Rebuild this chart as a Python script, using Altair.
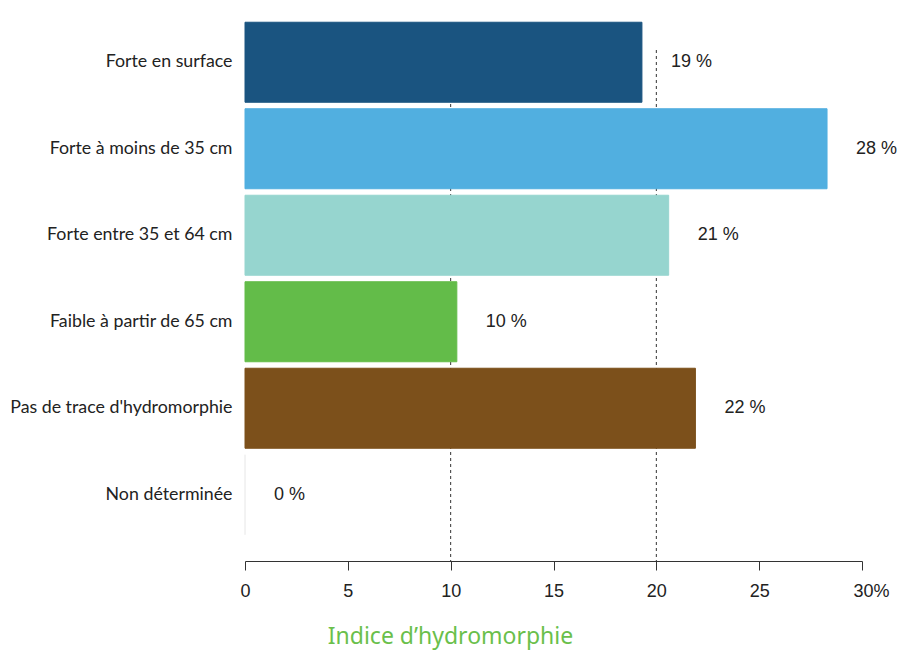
import altair as alt
import pandas as pd

# Hydromorphy classes and their share (%)
categories = [
    "Forte en surface",
    "Forte à moins de 35 cm",
    "Forte entre 35 et 64 cm",
    "Faible à partir de 65 cm",
    "Pas de trace d'hydromorphie",
    "Non déterminée",
]
values = [19.3, 28.3, 20.6, 10.3, 21.9, 0.0]
bar_colors = ["#1a5480", "#51afe0", "#96d5cf", "#63bc49", "#7c501b", "#eeeeee"]
x_ticks = [0, 5, 10, 15, 20, 25, 30]
ref_lines = [10, 20]

df = pd.DataFrame({"classe": categories, "part": values})
df["etiquette"] = [f"{round(v)} %" for v in values]
refs = pd.DataFrame({"x": ref_lines})

x_scale = alt.Scale(domain=[0, 30], nice=False, zero=True)
color_scale = alt.Scale(domain=categories, range=bar_colors)
y_enc = alt.Y(
    "classe:N",
    sort=categories,
    scale=alt.Scale(paddingInner=0.075, paddingOuter=0.0375),
    axis=alt.Axis(
        title=None,
        domain=False,
        ticks=False,
        labelFont="Lato",
        labelFontSize=17.8,
        labelColor="#222222",
        labelPadding=13,
        labelLimit=400,
    ),
)

rules = (
    alt.Chart(refs)
    .mark_rule(color="#333333", strokeDash=[3, 3], strokeWidth=1)
    .encode(
        x=alt.X("x:Q", scale=x_scale),
        y=alt.value(31),
        y2=alt.value(543),
    )
)

bars = (
    alt.Chart(df)
    .mark_bar(strokeWidth=1)
    .encode(
        x=alt.X(
            "part:Q",
            scale=x_scale,
            axis=alt.Axis(
                values=x_ticks,
                grid=False,
                offset=23,
                domainColor="#333333",
                tickColor="#333333",
                tickSize=9,
                labelFlush=False,
                labelFont="Liberation Sans",
                labelFontSize=18,
                labelColor="#222222",
                labelPadding=12,
                labelOffset={"expr": "datum.value == 30 ? 9 : 0"},
                labelExpr="datum.value == 30 ? '30%' : datum.label",
                title="Indice d’hydromorphie",
                titleFont="Noto Sans",
                titleFontSize=23,
                titleFontWeight="normal",
                titleColor="#6abf4b",
                titleAnchor="start",
                titleAlign="center",
                titleX=205,
                titleY=75,
                titleBaseline="middle",
            ),
        ),
        y=y_enc,
        color=alt.Color("classe:N", scale=color_scale, legend=None),
        stroke=alt.Stroke("classe:N", scale=color_scale, legend=None),
    )
)

labels = (
    alt.Chart(df)
    .mark_text(
        align="left",
        baseline="middle",
        dx=29,
        font="Liberation Sans",
        fontSize=18,
        color="#222222",
    )
    .encode(
        x=alt.X("part:Q", scale=x_scale),
        y=alt.Y("classe:N", sort=categories),
        text="etiquette:N",
    )
)

chart = (
    alt.layer(rules, bars, labels)
    .properties(
        width=617,
        height=519,
        autosize=alt.AutoSizeParams(type="none"),
        padding={"left": 245, "top": 19, "right": 37, "bottom": 112},
        background="white",
    )
    .configure_view(stroke=None)
)

chart.save("out.html", embed_options={"renderer": "svg", "actions": False})
